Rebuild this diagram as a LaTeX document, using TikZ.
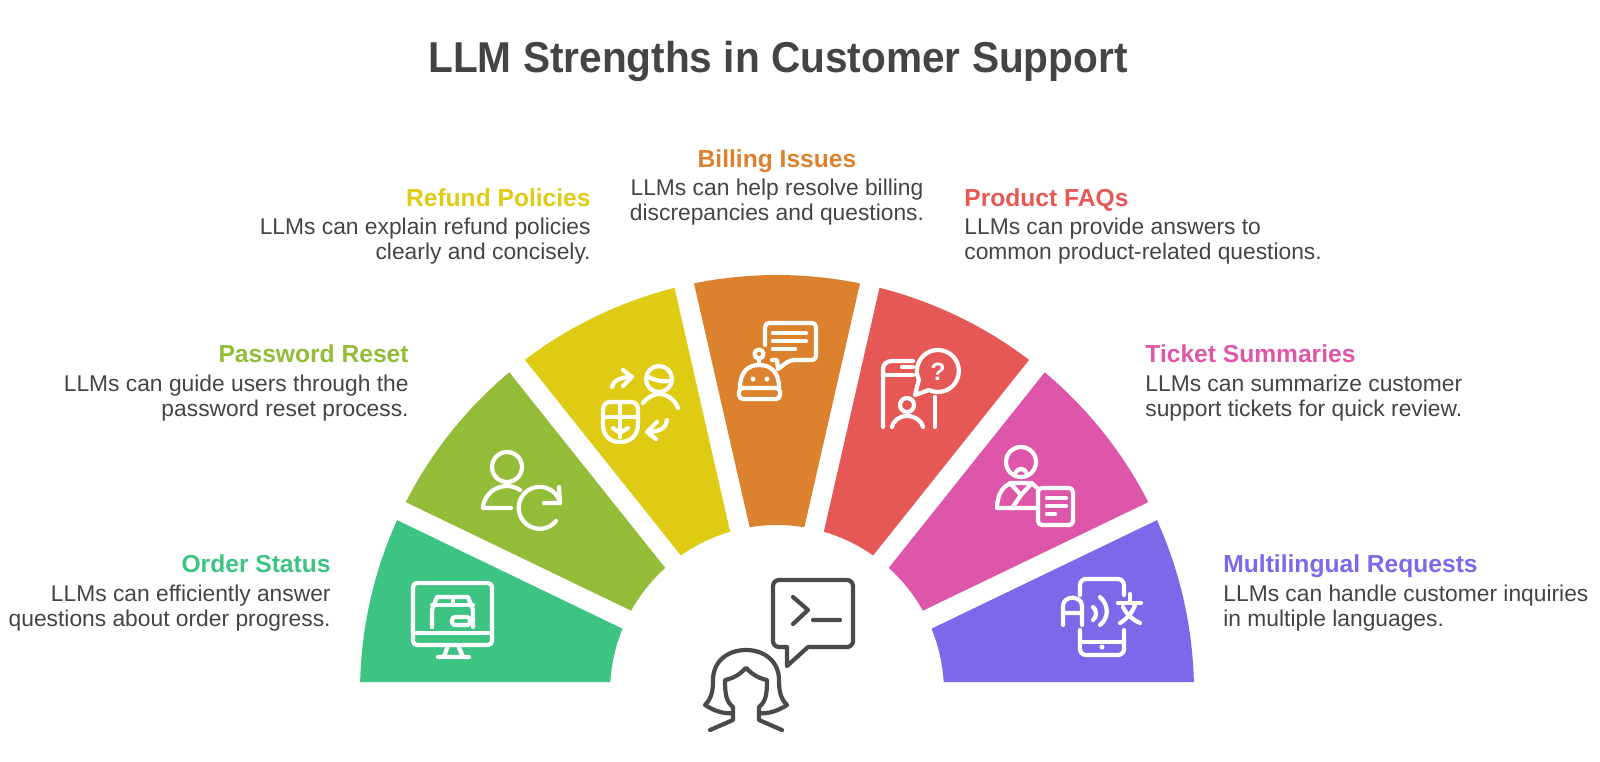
\documentclass[tikz,border=0pt]{standalone}
\usepackage{fontspec}
\setmainfont{Liberation Sans}
\newfontfamily\titleFont[BoldFeatures={FakeStretch=0.94}]{Liberation Sans}

\definecolor{textGray}{HTML}{444444}
\definecolor{personGray}{HTML}{4A4A4A}
\definecolor{orderGreen}{HTML}{3DC483}
\definecolor{resetLime}{HTML}{93BC39}
\definecolor{refundYellow}{HTML}{DFCB14}
\definecolor{billingOrange}{HTML}{DC822E}
\definecolor{faqRed}{HTML}{E65855}
\definecolor{ticketPink}{HTML}{DE56A9}
\definecolor{langPurple}{HTML}{7E67E8}

\tikzstyle{titleText}=[inner sep=0mm,text=textGray,anchor=base,font=\fontsize{21.6}{26}\titleFont\bfseries]
\tikzstyle{headText}=[inner sep=0mm,font=\fontsize{12.3}{15}\selectfont\bfseries]
\tikzstyle{bodyText}=[inner sep=0mm,text=textGray,font=\fontsize{11.4}{12.75}\selectfont]
\tikzstyle{leftHead}=[anchor=base east]
\tikzstyle{rightHead}=[anchor=base west]
\tikzstyle{leftBody}=[anchor=east,align=right]
\tikzstyle{rightBody}=[anchor=west,align=left]
\tikzstyle{iconLine}=[white,line width=2.1pt,line cap=round,line join=round]
\tikzstyle{personLine}=[personGray,line width=2.1pt,line cap=round,line join=round]

\begin{document}
\begin{tikzpicture}[x=0.5pt, y=-0.5pt]

	\useasboundingbox (0,0) rectangle (1600,761);

	% Title
	\node(title) at (778,72.7) [titleText] {LLM Strengths in Customer Support};

	% Wedges
	\foreach \i/\wedgeColor [evaluate = \i as \startA using -\i*180/7-1.374,
		evaluate = \i as \endA using -(\i+1)*180/7+1.374,
		evaluate = \i as \startB using -(\i+1)*180/7+3.43,
		evaluate = \i as \endB using -\i*180/7-3.43]
		in {0/langPurple,1/ticketPink,2/faqRed,3/billingOrange,4/refundYellow,5/resetLime,6/orderGreen}
		{
			\fill[\wedgeColor, shift={(777,692)}] (\startA:417) arc[start angle=\startA, end angle=\endA, radius=417]
				-- (\startB:167) arc[start angle=\startB, end angle=\endB, radius=167] -- cycle;
		}

	% Left labels
	\node(orderHead) at (331,572) [headText, leftHead, text=orderGreen] {Order Status};
	\node(orderBody) at (331,608) [bodyText, leftBody] {LLMs can efficiently answer\\questions about order progress.};
	\node(resetHead) at (409,362) [headText, leftHead, text=resetLime] {Password Reset};
	\node(resetBody) at (409,398) [bodyText, leftBody] {LLMs can guide users through the\\password reset process.};
	\node(refundHead) at (591,206) [headText, leftHead, text=refundYellow] {Refund Policies};
	\node(refundBody) at (591,241) [bodyText, leftBody] {LLMs can explain refund policies\\clearly and concisely.};

	% Middle label
	\node(billingHead) at (777,167) [headText, anchor=base, text=billingOrange] {Billing Issues};
	\node(billingBody) at (777,202) [bodyText, align=center] {LLMs can help resolve billing\\discrepancies and questions.};

	% Right labels
	\node(faqHead) at (964,206) [headText, rightHead, text=faqRed] {Product FAQs};
	\node(faqBody) at (964,241) [bodyText, rightBody] {LLMs can provide answers to\\common product-related questions.};
	\node(ticketHead) at (1145,362) [headText, rightHead, text=ticketPink] {Ticket Summaries};
	\node(ticketBody) at (1145,398) [bodyText, rightBody] {LLMs can summarize customer\\support tickets for quick review.};
	\node(langHead) at (1223,572) [headText, rightHead, text=langPurple] {Multilingual Requests};
	\node(langBody) at (1223,608) [bodyText, rightBody] {LLMs can handle customer inquiries\\in multiple languages.};

	% Monitor
	\draw[iconLine, rounded corners=2pt] (413,583) rectangle (492,645);
	\draw[iconLine] (413,633) -- (492,633);
	\draw[iconLine] (448,645) -- (444,657) (458,645) -- (463,657) (438,657) -- (469,657);
	\draw[iconLine] (432,627) -- (432,610) -- (437,597) -- (468,597) -- (473,610) -- (473,627);
	\draw[iconLine] (432,605) -- (473,605) (453,597) -- (453,604);
	\draw[iconLine, rounded corners=1.5pt] (452,617) rectangle (470,625);

	% User with refresh arrow
	\draw[iconLine] (507,467) circle (15);
	\draw[iconLine] (520,490) .. controls (505,480) and (484,490) .. (483,508) -- (511,508);
	\draw[iconLine] (556,521) arc[start angle=39, end angle=346, radius=21];
	\draw[iconLine] (559,487) -- (560,503) -- (544,503);

	% Mouse with arrows
	\draw[iconLine] (659,379) circle (13);
	\draw[iconLine] (647,376) .. controls (655,381) and (663,382) .. (671,381);
	\draw[iconLine] (643,403) .. controls (648,397) and (654,394) .. (659,394) .. controls (667,394) and (675,400) .. (678,408);
	\draw[iconLine] (612,387) .. controls (613,381) and (620,377) .. (631,377);
	\draw[iconLine] (623,370) -- (632,377) -- (623,386);
	\draw[iconLine] (667,420) .. controls (667,427) and (660,432) .. (648,432);
	\draw[iconLine] (657,422) -- (647,432) -- (656,439);
	\draw[iconLine] (610,402) -- (631,402) .. controls (636,402) and (638,406) .. (638,410) -- (638,424) .. controls (638,436) and (630,442) .. (620,442)
		.. controls (610,442) and (603,436) .. (603,424) -- (603,410) .. controls (603,406) and (605,402) .. (610,402) -- cycle;
	\draw[iconLine] (603,417) -- (638,417) (620,402) -- (620,437);
	\draw[iconLine] (613,428) -- (620,433) -- (628,428);

	% Robot with speech bubble
	\draw[iconLine, rounded corners=2pt] (765,345) -- (765,323) -- (816,323) -- (816,360) -- (790,360) [sharp corners] -- (778,369) -- (777,360) -- (772,360);
	\draw[iconLine] (773,333) -- (806,333) (773,341) -- (806,341) (773,349) -- (795,349);
	\draw[iconLine] (759,354) circle (4.5);
	\draw[iconLine] (759,359) -- (759,365);
	\draw[iconLine] (740,388) .. controls (740,372) and (748,365) .. (759,365) .. controls (771,365) and (779,372) .. (779,388);
	\draw[iconLine, rounded corners=2pt] (739,388) rectangle (780,399);
	\fill[white] (753,379) circle (2.5) (767,379) circle (2.5);

	% Phone with question bubble
	\draw[iconLine] (883,427) -- (883,369) .. controls (883,364) and (887,361) .. (892,361) -- (913,361);
	\draw[iconLine] (883,375) -- (913,375) (902,367) -- (913,367) (935,397) -- (935,427);
	\draw[iconLine] (915,395) -- (929,390) arc[start angle=115, end angle=-205, radius=21] -- cycle;
	\node(faqMark) at (938,372) [inner sep=0mm, text=white, font=\fontsize{12.5}{14}\selectfont\bfseries] {?};
	\draw[iconLine] (907,405) circle (7);
	\draw[iconLine] (892,427) .. controls (893,421) and (899,416) .. (907,416) .. controls (915,416) and (922,421) .. (923,427);

	% Agent with document
	\draw[iconLine] (1021,462) circle (15);
	\draw[iconLine] (1016,472) .. controls (1018,468) and (1024,468) .. (1026,472);
	\draw[iconLine] (1037,488) .. controls (1034,485) and (1032,483) .. (1030,483) -- (1012,483)
		.. controls (1003,485) and (997,495) .. (997,508) -- (1035,508);
	\draw[iconLine] (1010,483) -- (1021,495) -- (1032,483) (1021,495) -- (1012,508);
	\draw[iconLine, rounded corners=2pt] (1038,488) rectangle (1073,525);
	\draw[iconLine] (1047,498) -- (1066,498) (1047,506) -- (1066,506) (1047,514) -- (1055,514);

	% Phone with translation
	\draw[iconLine, rounded corners=3pt] (1080,595) -- (1080,579) -- (1124,579) -- (1124,595);
	\draw[iconLine, rounded corners=3pt] (1080,630) -- (1080,655) -- (1124,655) -- (1124,630);
	\draw[iconLine] (1080,642) -- (1124,642);
	\fill[white] (1102,647) circle (2.5);
	\draw[iconLine] (1063,625) -- (1063,606) .. controls (1063,595) and (1082,595) .. (1082,606) -- (1082,625) (1063,613) -- (1082,613);
	\draw[iconLine] (1093,607) .. controls (1097,610) and (1097,617) .. (1093,620);
	\draw[iconLine] (1100,597) .. controls (1109,605) and (1109,618) .. (1100,625);
	\draw[iconLine] (1130,594) -- (1130,602) (1118,603) -- (1141,603);
	\draw[iconLine] (1135,605) .. controls (1132,613) and (1127,619) .. (1120,623);
	\draw[iconLine] (1123,607) .. controls (1127,615) and (1133,620) .. (1140,623);

	% Person with prompt bubble
	\draw[personLine, rounded corners=3pt] (808,647) -- (853,647) -- (853,580) -- (773,580) -- (773,647) [sharp corners] -- (787,647) -- (787,666) -- cycle;
	\draw[personLine] (793,597) -- (808,610) -- (793,624) (813,620) -- (840,620);
	\draw[personLine] (733,713) .. controls (725,714) and (716,712) .. (705,705) .. controls (712,698) and (713,690) .. (713,680)
		.. controls (713,662) and (727,650) .. (746,650) .. controls (765,650) and (779,662) .. (779,680)
		.. controls (779,690) and (780,698) .. (787,705) .. controls (776,712) and (767,714) .. (759,713);
	\draw[personLine] (710,730) -- (733,720) -- (733,707) .. controls (727,702) and (725,697) .. (725,680)
		.. controls (735,678) and (741,673) .. (746,668) .. controls (751,673) and (757,678) .. (767,680)
		.. controls (767,697) and (765,702) .. (759,707) -- (759,720) -- (782,730);

\end{tikzpicture}
\end{document}
